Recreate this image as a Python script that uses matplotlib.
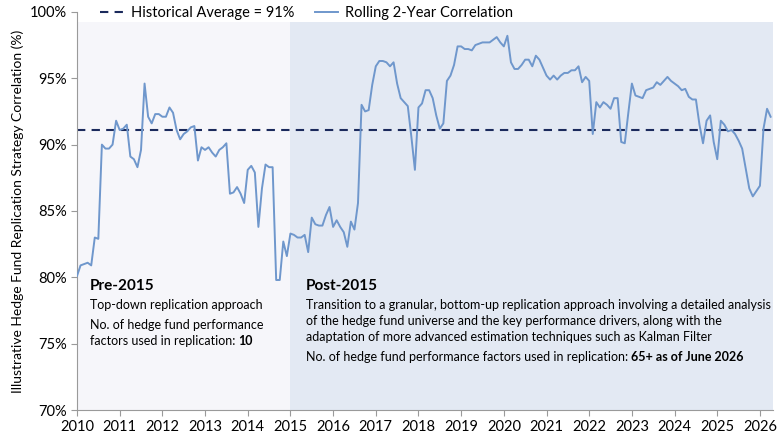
import matplotlib.pyplot as plt
import numpy as np

plt.rcParams['font.family'] = ['Lato', 'DejaVu Sans']

# monthly rolling 2-year correlation, Jan 2010 .. Apr 2026 (%)
corr = [
    80.1, 80.9, 81.0, 81.1, 80.9, 83.0, 82.9, 90.0, 89.7, 89.7, 90.0, 91.8,
    91.1, 91.2, 91.5, 89.1, 88.9, 88.3, 89.6, 94.6, 92.1, 91.6, 92.3, 92.3,
    92.1, 92.1, 92.8, 92.4, 91.1, 90.4, 90.8, 91.0, 91.3, 91.4, 88.8, 89.8,
    89.6, 89.8, 89.4, 89.1, 89.6, 89.8, 90.1, 86.3, 86.4, 86.8, 86.3, 85.6,
    88.1, 88.4, 87.9, 83.8, 86.7, 88.5, 88.3, 88.3, 79.8, 79.8, 82.7, 81.6,
    83.3, 83.2, 83.0, 83.0, 83.2, 81.9, 84.5, 84.0, 83.9, 83.9, 84.7, 85.3,
    83.8, 84.3, 83.8, 83.4, 82.3, 84.2, 83.6, 85.6, 93.0, 92.5, 92.6, 94.5,
    95.9, 96.3, 96.3, 96.2, 95.9, 96.2, 94.6, 93.5, 93.2, 92.9, 90.6, 88.1,
    92.8, 93.1, 94.1, 94.1, 93.5, 92.2, 91.2, 91.6, 94.8, 95.2, 96.0, 97.4,
    97.4, 97.2, 97.2, 97.1, 97.5, 97.6, 97.7, 97.7, 97.7, 97.9, 98.1, 97.7,
    97.4, 98.2, 96.2, 95.7, 95.7, 96.0, 96.4, 96.4, 95.9, 96.7, 96.4, 95.8,
    95.2, 94.9, 95.2, 94.9, 95.2, 95.4, 95.4, 95.6, 95.6, 95.9, 94.7, 95.1,
    94.8, 90.8, 93.2, 92.8, 93.2, 93.0, 92.7, 93.5, 93.5, 90.2, 90.1, 92.4,
    94.6, 93.7, 93.6, 93.5, 94.1, 94.2, 94.3, 94.7, 94.5, 94.8, 95.1, 94.8,
    94.6, 94.4, 94.1, 94.2, 93.6, 93.4, 93.4, 91.5, 90.1, 91.8, 92.2, 90.2,
    88.9, 91.8, 91.5, 91.0, 91.1, 90.8, 90.3, 89.7, 88.2, 86.7, 86.1, 86.5,
    86.9, 91.2, 92.7, 92.1,
]
hist_avg = 91.1
start_year = 2010
split_year = 2015
years = list(range(2010, 2027))
yticks = [70, 75, 80, 85, 90, 95, 100]

dates = start_year + np.arange(len(corr)) / 12.0

fig = plt.figure(figsize=(7.8, 4.4), dpi=100)
ax = fig.add_axes([0.0987, 0.068, 0.892, 0.905])

ax.set_xlim(2010, 2026.3)
ax.set_ylim(70, 100)

top = (99.2 - 70) / 30
ax.axvspan(2010, split_year, ymin=0, ymax=top, color='#f6f6fa', lw=0, zorder=0)
ax.axvspan(split_year, 2026.3, ymin=0, ymax=top, color='#e3e9f3', lw=0, zorder=0)

ax.axhline(hist_avg, color='#1b2a5c', lw=1.5, ls=(0, (4, 3)), zorder=2,
           label='Historical Average = 91%')
ax.plot(dates, corr, color='#6f97cc', lw=1.4, zorder=3,
        label='Rolling 2-Year Correlation')

ax.set_xticks(years)
ax.set_xticklabels([str(y) for y in years], fontsize=10.5)
ax.set_yticks(yticks)
ax.set_yticklabels(['%d%%' % v for v in yticks], fontsize=10.5)
ax.set_ylabel('Illustrative Hedge Fund Replication Strategy Correlation (%)',
              fontsize=10, labelpad=4)

for s in ['top', 'right']:
    ax.spines[s].set_visible(False)
for s in ['left', 'bottom']:
    ax.spines[s].set_color('#9a9a9a')
ax.tick_params(axis='both', colors='#9a9a9a', labelcolor='black', length=4)

leg = ax.legend(loc='lower left', bbox_to_anchor=(0.025, 0.965), ncol=2,
                frameon=False, fontsize=10.5, handlelength=1.6,
                handletextpad=0.5, columnspacing=1.4, borderaxespad=0)

fig.canvas.draw()
r = fig.canvas.get_renderer()


def two_part(x, y, plain, bold):
    t = ax.text(x, y, plain, transform=ax.transAxes, fontsize=9, va='center')
    bb = t.get_window_extent(r).transformed(ax.transAxes.inverted())
    ax.text(bb.x1, y, bold, transform=ax.transAxes, fontsize=9,
            fontweight='bold', va='center')


# annotations
ax.text(0.018, 0.312, 'Pre-2015', transform=ax.transAxes, fontsize=11,
        fontweight='bold', va='center')
ax.text(0.018, 0.264, 'Top-down replication approach', transform=ax.transAxes,
        fontsize=9, va='center')
ax.text(0.018, 0.214, 'No. of hedge fund performance', transform=ax.transAxes,
        fontsize=9, va='center')
two_part(0.018, 0.173, 'factors used in replication: ', '10')

ax.text(0.329, 0.312, 'Post-2015', transform=ax.transAxes, fontsize=11,
        fontweight='bold', va='center')
post_lines = [
    'Transition to a granular, bottom-up replication approach involving a detailed analysis',
    'of the hedge fund universe and the key performance drivers, along with the',
    'adaptation of more advanced estimation techniques such as Kalman Filter',
]
for k, t in enumerate(post_lines):
    ax.text(0.329, 0.264 - k * 0.0405, t, transform=ax.transAxes, fontsize=9,
            va='center')
two_part(0.329, 0.133, 'No. of hedge fund performance factors used in replication: ',
         '65+ as of June 2026')

fig.savefig('out.png', dpi=100)
